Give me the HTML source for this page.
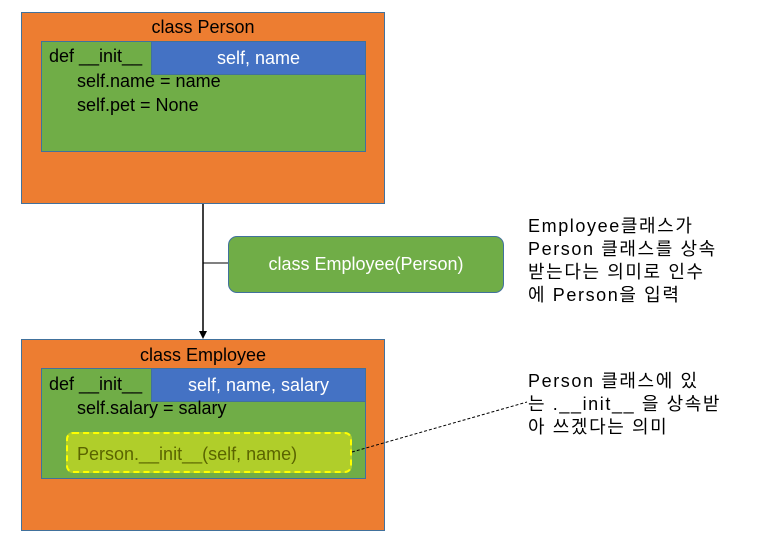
<!DOCTYPE html>
<html><head><meta charset="utf-8"><style>
body{margin:0;width:762px;height:551px;background:#fff;position:relative;font-family:"Liberation Sans","Noto Sans CJK KR",sans-serif;overflow:hidden}
.a{position:absolute;box-sizing:border-box}
.o{background:#ed7d31;border:1px solid #41719c}
.g{background:#70ad47;border:1px solid #41719c}
.b{background:#4472c4;border:1px solid #41719c;color:#fff;font-size:18px;text-align:center}
.t{position:absolute;font-size:18px;color:#000;white-space:nowrap}
.k{position:absolute;font-size:18px;line-height:23px;color:#000;letter-spacing:1.6px;white-space:nowrap}
</style></head><body>
<div class="a o" style="left:21px;top:12px;width:364px;height:192px"></div>
<div class="t" style="left:21px;width:364px;text-align:center;top:17px">class Person</div>
<div class="a g" style="left:41px;top:41px;width:325px;height:111px"></div>
<div class="a b" style="left:151px;top:41px;width:215px;height:34px;line-height:32px">self, name</div>
<div class="t" style="left:49px;top:46px">def __init__</div>
<div class="t" style="left:77px;top:71px">self.name = name</div>
<div class="t" style="left:77px;top:95px">self.pet = None</div>

<div class="a o" style="left:21px;top:339px;width:364px;height:192px"></div>
<div class="t" style="left:21px;width:364px;text-align:center;top:345px">class Employee</div>
<div class="a g" style="left:41px;top:368px;width:325px;height:111px"></div>
<div class="a b" style="left:151px;top:368px;width:215px;height:34px;line-height:32px">self, name, salary</div>
<div class="t" style="left:49px;top:374px">def __init__</div>
<div class="t" style="left:77px;top:398px">self.salary = salary</div>
<div class="a" style="left:66px;top:432px;width:286px;height:41px;background:#b0ce2a;border:2px dashed #ffff00;border-radius:7px"></div>
<div class="t" style="left:77px;top:444px;color:#5a6400">Person.__init__(self, name)</div>

<svg class="a" style="left:0;top:0" width="762" height="551">
<line x1="203" y1="204" x2="203" y2="332" stroke="#000" stroke-width="1.5"/>
<polygon points="199,331 207,331 203,339" fill="#000"/>
<line x1="203" y1="263" x2="228" y2="263" stroke="#000" stroke-width="1"/>
<line x1="352" y1="452" x2="527" y2="402" stroke="#000" stroke-width="1" stroke-dasharray="3,2"/>
</svg>
<div class="a" style="left:228px;top:236px;width:276px;height:57px;background:#70ad47;border:1px solid #41719c;border-radius:9px;color:#fff;font-size:18px;text-align:center;line-height:55px">class Employee(Person)</div>

<div class="k" style="left:528px;top:215px">Employee클래스가<br>Person 클래스를 상속<br>받는다는 의미로 인수<br>에 Person을 입력</div>
<div class="k" style="left:528px;top:370px">Person 클래스에 있<br>는 .__init__ 을 상속받<br>아 쓰겠다는 의미</div>
</body></html>
